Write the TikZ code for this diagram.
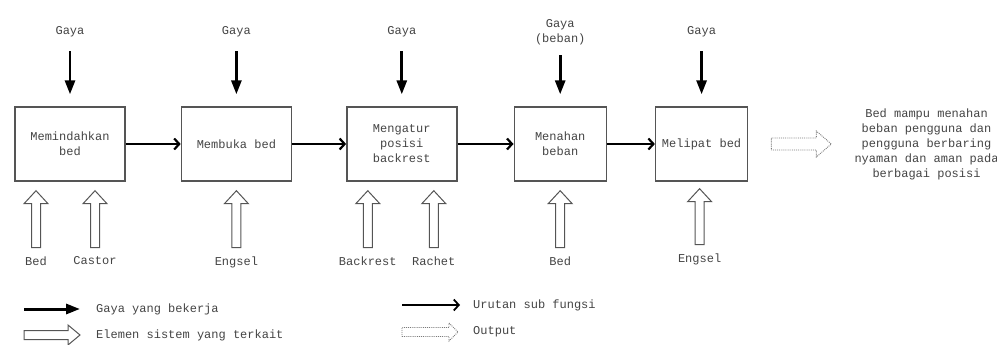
\documentclass[tikz,border=0pt]{standalone}
\usepackage{fontspec}
\setmainfont{Liberation Mono}
\usepackage{xcolor}
\usepackage{tikz}
\usetikzlibrary{arrows.meta, positioning, calc}
\definecolor{cInk}{HTML}{444444}
\definecolor{cLine}{HTML}{555555}
\definecolor{cDot}{HTML}{7A7A7A}
\newcommand{\lblfont}{\fontsize{12}{15}\selectfont}

\begin{document}
\begin{tikzpicture}[
    x=1pt, y=-1pt,
    func/.style={draw=cLine, line width=1.4pt, minimum width=#1,
                 minimum height=74pt, font=\lblfont, text=cInk,
                 align=center, inner sep=2pt},
    func/.default=110pt,
    lbl/.style={font=\lblfont, text=cInk, align=center, inner sep=0pt},
    force/.style={-{Triangle[length=14pt,width=10pt]}, line width=2.8pt},
    gaya/.style={force, shorten <=14pt, shorten >=12pt},
    flow/.style={-{Straight Barb[length=5pt,width=11pt]}, line width=2.2pt},
    hup/.style={draw=cLine, line width=1pt,
                to path={let \p1=(\tikztostart), \p2=(\tikztotarget) in
                  (\x1-4.5pt,\y1) -- (\x1-4.5pt,\y2-13pt) -- (\x1-12pt,\y2-13pt)
                  -- (\x1,\y2) -- (\x1+12pt,\y2-13pt) -- (\x1+4.5pt,\y2-13pt)
                  -- (\x1+4.5pt,\y1) -- cycle}},
    hright/.style args={#1/#2/#3}{
                to path={let \p1=(\tikztostart), \p2=(\tikztotarget) in
                  (\x1,\y1-#1) -- (\x2-#3,\y1-#1) -- (\x2-#3,\y1-#2) -- (\x2,\y1)
                  -- (\x2-#3,\y1+#2) -- (\x2-#3,\y1+#1) -- (\x1,\y1+#1) -- cycle}},
  ]
  \useasboundingbox (0,0) rectangle (997,345);

  % ── SUB FUNCTIONS ──
  \node[func] (m1) at (70,144) {Memindahkan\\bed};
  \node[func, right=55pt of m1] (m2) {Membuka bed};
  \node[func, right=54pt of m2] (m3) {Mengatur\\posisi\\backrest};
  \node[func=92pt, right=56pt of m3] (m4) {Menahan\\beban};
  \node[func=92pt, right=48pt of m4] (m5) {Melipat bed};
  \draw[flow] (m1) -- (m2);
  \draw[flow] (m2) -- (m3);
  \draw[flow] (m3) -- (m4);
  \draw[flow] (m4) -- (m5);

  % ── FORCES ──
  \node[lbl, above=69pt of m1] (g1) {Gaya};
  \node[lbl, above=69pt of m2] (g2) {Gaya};
  \node[lbl, above=69pt of m3] (g3) {Gaya};
  \node[lbl, above=61pt of m4] (g4) {Gaya\\(beban)};
  \node[lbl, above=69pt of m5] (g5) {Gaya};
  \draw[gaya] (g1) -- (m1);
  \draw[gaya] (g2) -- (m2);
  \draw[gaya] (g3) -- (m3);
  \draw[gaya, shorten <=10pt] (g4) -- (m4);
  \draw[gaya] (g5) -- (m5);

  % ── SYSTEM ELEMENTS ──
  \node[lbl, below=75pt of m1, xshift=-34pt] (e1) {Bed};
  \node[lbl, below=75pt of m1, xshift=25pt] (e2) {Castor};
  \node[lbl, below=75pt of m2] (e3) {Engsel};
  \node[lbl, below=75pt of m3, xshift=-34pt] (e4) {Backrest};
  \node[lbl, below=75pt of m3, xshift=32pt] (e5) {Rachet};
  \node[lbl, below=75pt of m4] (e6) {Bed};
  \node[lbl, below=72pt of m5, xshift=-2pt] (e7) {Engsel};
  \draw[hup] ([yshift=9pt]e1.north) to ([yshift=-9pt]e1.north |- m1.south);
  \draw[hup] ([yshift=9pt]e2.north) to ([yshift=-9pt]e2.north |- m1.south);
  \draw[hup] ([yshift=9pt]e3.north) to ([yshift=-9pt]e3.north |- m2.south);
  \draw[hup] ([yshift=9pt]e4.north) to ([yshift=-9pt]e4.north |- m3.south);
  \draw[hup] ([yshift=9pt]e5.north) to ([yshift=-9pt]e5.north |- m3.south);
  \draw[hup] ([yshift=9pt]e6.north) to ([yshift=-9pt]e6.north |- m4.south);
  \draw[hup] ([yshift=9pt]e7.north) to ([yshift=-7pt]e7.north |- m5.south);

  % ── OUTPUT ──
  \node[lbl, right=106pt of m5] (out)
    {Bed mampu menahan\\beban pengguna dan\\pengguna berbaring\\nyaman dan aman pada\\berbagai posisi};
  \draw[cDot, densely dotted, line width=0.9pt, hright=6pt/13pt/15pt]
    ([xshift=23pt]m5.east) to ([xshift=-23pt]out.west);

  % ── LEGEND ──
  \coordinate (k1s) at (24,309);
  \coordinate (k1e) at (80,309);
  \coordinate (k2s) at (24,335);
  \coordinate (k2e) at (80,335);
  \coordinate (k3s) at (402,305);
  \coordinate (k3e) at (460,305);
  \coordinate (k4s) at (402,332);
  \coordinate (k4e) at (458,332);
  \draw[force, line width=3pt] (k1s) -- (k1e);
  \draw[cLine, line width=1pt, hright=4.5pt/10pt/12pt] (k2s) to (k2e);
  \draw[flow, line width=1.8pt] (k3s) -- (k3e);
  \draw[cDot, densely dotted, line width=0.9pt, hright=4.5pt/9pt/9pt] (k4s) to (k4e);
  \node[lbl, right=16pt of k1e] (k1t) {Gaya yang bekerja};
  \node[lbl, right=16pt of k2e] (k2t) {Elemen sistem yang terkait};
  \node[lbl, right=13pt of k3e] (k3t) {Urutan sub fungsi};
  \node[lbl, right=15pt of k4e] (k4t) {Output};
\end{tikzpicture}
\end{document}
